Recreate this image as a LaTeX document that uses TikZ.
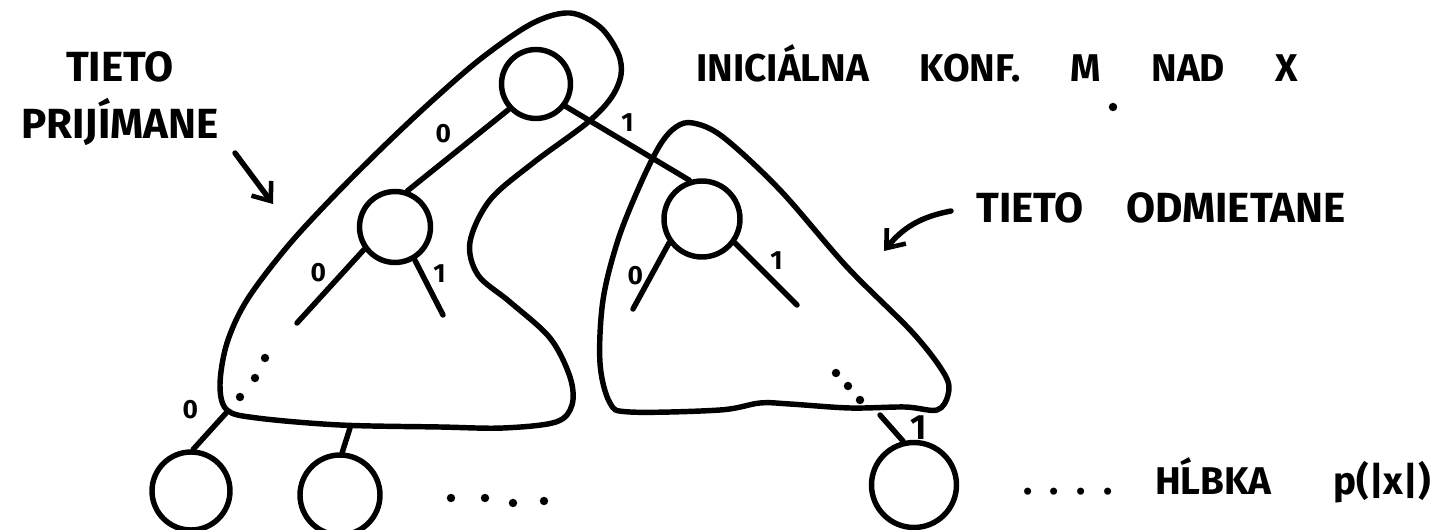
\documentclass[tikz,border=0pt]{standalone}
\usepackage{fontspec}
\setmainfont{Fira Sans}
\usetikzlibrary{arrows.meta, positioning}

\begin{document}
\begin{tikzpicture}[
        x=0.02cm, y=-0.02cm,
        pen/.style={line width=3.1pt, line cap=round, line join=round},
        conf/.style={circle, draw, pen, inner sep=0pt},
        bit/.style={font=\fontsize{15}{15}\selectfont\bfseries, inner sep=1pt},
        note/.style={font=\fontsize{24}{24}\selectfont\bfseries, inner sep=0pt},
        ptr/.style={pen, -{Straight Barb[length=9pt, width=14pt, line width=2.6pt]}},
    ]
        \useasboundingbox (0,0) rectangle (1445,530);

        % Configurations of the tree
        \node[conf, minimum size=1.38cm] (root) at (536,84) {};
        \node[conf, minimum size=1.42cm] (lchild) at (395,227) {};
        \node[conf, minimum size=1.52cm] (rchild) at (702,219) {};
        \node[conf, minimum size=1.56cm] (leafA) at (191,491) {};
        \node[conf, minimum size=1.6cm] (leafB) at (340,495) {};
        \node[conf, minimum size=1.7cm] (leafC) at (914,485) {};

        % Loose ends of the edges
        \coordinate (lstubL) at (297,323);
        \coordinate (lstubR) at (443,315);
        \coordinate (rstubL) at (633,309);
        \coordinate (rstubR) at (797,305);
        \coordinate (accA) at (227,412);
        \coordinate (accB) at (350,428);
        \coordinate (rejC) at (880,415);

        % Edges
        \draw[pen] (root.223) -- node[bit, above left=2pt] {0} (lchild.71);
        \draw[pen] (root.-37) -- node[bit, above=4pt] {1} (rchild.108);
        \draw[pen] (lchild.216) -- node[bit, above left=0pt] {0} (lstubL);
        \draw[pen] (lchild.-59) -- node[bit, above right=0pt] {1} (lstubR);
        \draw[pen] (rchild.216) -- node[bit, left=2pt] {0} (rstubL);
        \draw[pen] (rchild.-36) -- node[bit, above right=0pt] {1} (rstubR);
        \draw[pen] (accA) -- node[bit, above left=6pt] {0} (leafA.87);
        \draw[pen] (accB) -- (leafB.87);
        \draw[pen] (rejC) -- node[font=\fontsize{20}{20}\selectfont\bfseries, inner sep=0pt, right=9pt] {1} (leafC.104);

        % Accepted part
        \draw[pen] plot[smooth cycle, tension=0.55] coordinates {
            (570,13) (600,27) (618,53) (621,75) (611,98) (587,123) (533,163)
            (490,200) (470,242) (478,275) (510,302) (550,338) (570,377)
            (572,405) (556,422) (503,428) (440,427) (340,425) (257,418)
            (227,410) (220,385) (227,343) (247,300) (287,247) (333,197)
            (383,147) (433,100) (483,57) (533,23)};

        % Rejected part
        \draw[pen] plot[smooth cycle, tension=0.55] coordinates {
            (693,123) (723,137) (780,190) (847,267) (913,333) (945,375)
            (948,395) (937,410) (905,407) (850,408) (790,404) (760,403)
            (720,410) (630,412) (610,403) (600,363) (603,300) (618,240)
            (640,185) (660,145) (676,127)};

        % Dots
        \foreach \p in {(265,358), (255,378), (240,397), (836,373), (848,386),
                        (860,400), (451,498), (485,498), (513,503), (544,501),
                        (1113,107)}
            \fill \p circle (2.4pt);

        % Texts
        \node[note] (tieto) at (120,67) {TIETO};
        \node[note] (prij) at (120,122) {PRIJÍMANE};
        \node[note, font=\fontsize{22}{22}\selectfont\bfseries] (title) at (997,63)
            {INICIÁLNA\hspace{1.3em}KONF.\hspace{1.3em}M\hspace{1.3em}NAD\hspace{1.3em}X};
        \node[note] (odm) at (1161,208)
            {TIETO\hspace{1em}ODMIETANE};
        \node[note, font=\fontsize{22}{22}\selectfont\bfseries] (depth) at (1227,480)
            {.\hspace{0.45em}.\hspace{0.45em}.\hspace{0.45em}.\hspace{1.1em}HĹBKA\hspace{1.6em}p(|x|)};

        % Pointers
        \coordinate (accTail) at (235,153);
        \coordinate (accTip) at (273,204);
        \coordinate (rejTail) at (951,211);
        \coordinate (rejTip) at (884,251);
        \draw[ptr] (accTail) -- (accTip);
        \draw[ptr] (rejTail) to[bend right=20] (rejTip);
    \end{tikzpicture}
\end{document}
